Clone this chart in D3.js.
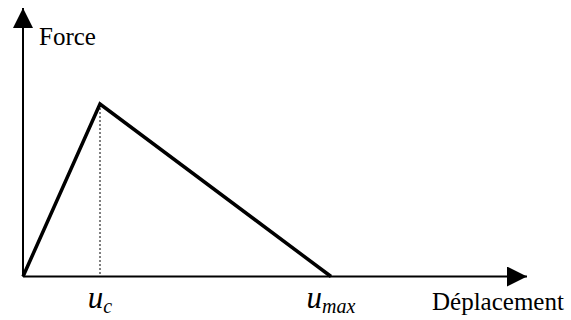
<!DOCTYPE html>
<html>
<head>
<meta charset="utf-8">
<script src="https://cdn.jsdelivr.net/npm/d3@7"></script>
<style>
  html, body { margin: 0; padding: 0; background: #fff; }
  svg { display: block; }
  #chart text, #chart tspan {
    font-family: "Liberation Serif", "Times New Roman", Tinos, FreeSerif, serif !important;
  }
</style>
</head>
<body>
<svg id="chart" width="571" height="320"></svg>
<script>
// Bilinear softening law: force rises to a peak at u_c, then drops to zero at u_max
const displacement = [0, 1, 4];
const force = [0, 1, 0];
const peakIndex = 1;
const axisTitles = { x: "Déplacement", y: "Force" };
const tickLabels = [
  { at: 1, base: "u", sub: "c" },
  { at: 4, base: "u", sub: "max" }
];

const origin = { x: 23, y: 276.5 };
const xEnd = 527, yEnd = 8;

const x = d3.scaleLinear().domain([0, 4]).range([origin.x, 331]);
const y = d3.scaleLinear().domain([0, 1]).range([origin.y, 104]);

const svg = d3.select("#chart")
  .style("font-family", '"Liberation Serif", "Times New Roman", serif');

// axis titles
svg.append("text")
  .attr("x", 39).attr("y", 45)
  .style("font-family", '"Liberation Serif", "Times New Roman", serif')
  .style("font-size", "25px")
  .text(axisTitles.y);

svg.append("text")
  .attr("x", 432).attr("y", 310)
  .style("font-family", '"Liberation Serif", "Times New Roman", serif')
  .style("font-size", "25px")
  .text(axisTitles.x);

// tick labels u_c and u_max, centred under their displacement
tickLabels.forEach(t => {
  const txt = svg.append("text")
    .attr("x", x(t.at))
    .attr("y", 308)
    .attr("text-anchor", "middle")
    .style("font-family", '"Liberation Serif", "Times New Roman", serif')
    .style("font-style", "italic")
    .style("font-size", "31px");
  txt.append("tspan").text(t.base);
  txt.append("tspan")
    .style("font-size", "20px")
    .attr("dy", 5)
    .text(t.sub);
});

const defs = svg.append("defs");
defs.append("marker")
  .attr("id", "arrow")
  .attr("viewBox", "0 0 20 20")
  .attr("refX", 20).attr("refY", 10)
  .attr("markerWidth", 20).attr("markerHeight", 20)
  .attr("markerUnits", "userSpaceOnUse")
  .attr("orient", "auto")
  .append("path")
  .attr("d", "M0,0 L20,10 L0,20 Z")
  .attr("fill", "#000");

// axes with arrowheads
svg.append("line")
  .attr("x1", origin.x).attr("y1", origin.y)
  .attr("x2", xEnd).attr("y2", origin.y)
  .attr("stroke", "#000").attr("stroke-width", 2)
  .attr("marker-end", "url(#arrow)");

svg.append("line")
  .attr("x1", origin.x).attr("y1", origin.y)
  .attr("x2", origin.x).attr("y2", yEnd)
  .attr("stroke", "#000").attr("stroke-width", 2)
  .attr("marker-end", "url(#arrow)");

// dotted drop line from the peak
svg.append("line")
  .attr("x1", x(displacement[peakIndex])).attr("y1", y(force[peakIndex]))
  .attr("x2", x(displacement[peakIndex])).attr("y2", y(0))
  .attr("stroke", "#000").attr("stroke-width", 1)
  .attr("stroke-dasharray", "2,2");

// force-displacement curve
const curve = d3.line()
  .x((d, i) => x(displacement[i]))
  .y(d => y(d));

svg.append("path")
  .datum(force)
  .attr("d", curve)
  .attr("fill", "none")
  .attr("stroke", "#000")
  .attr("stroke-width", 3.5)
  .attr("stroke-linejoin", "miter");
</script>
</body>
</html>
